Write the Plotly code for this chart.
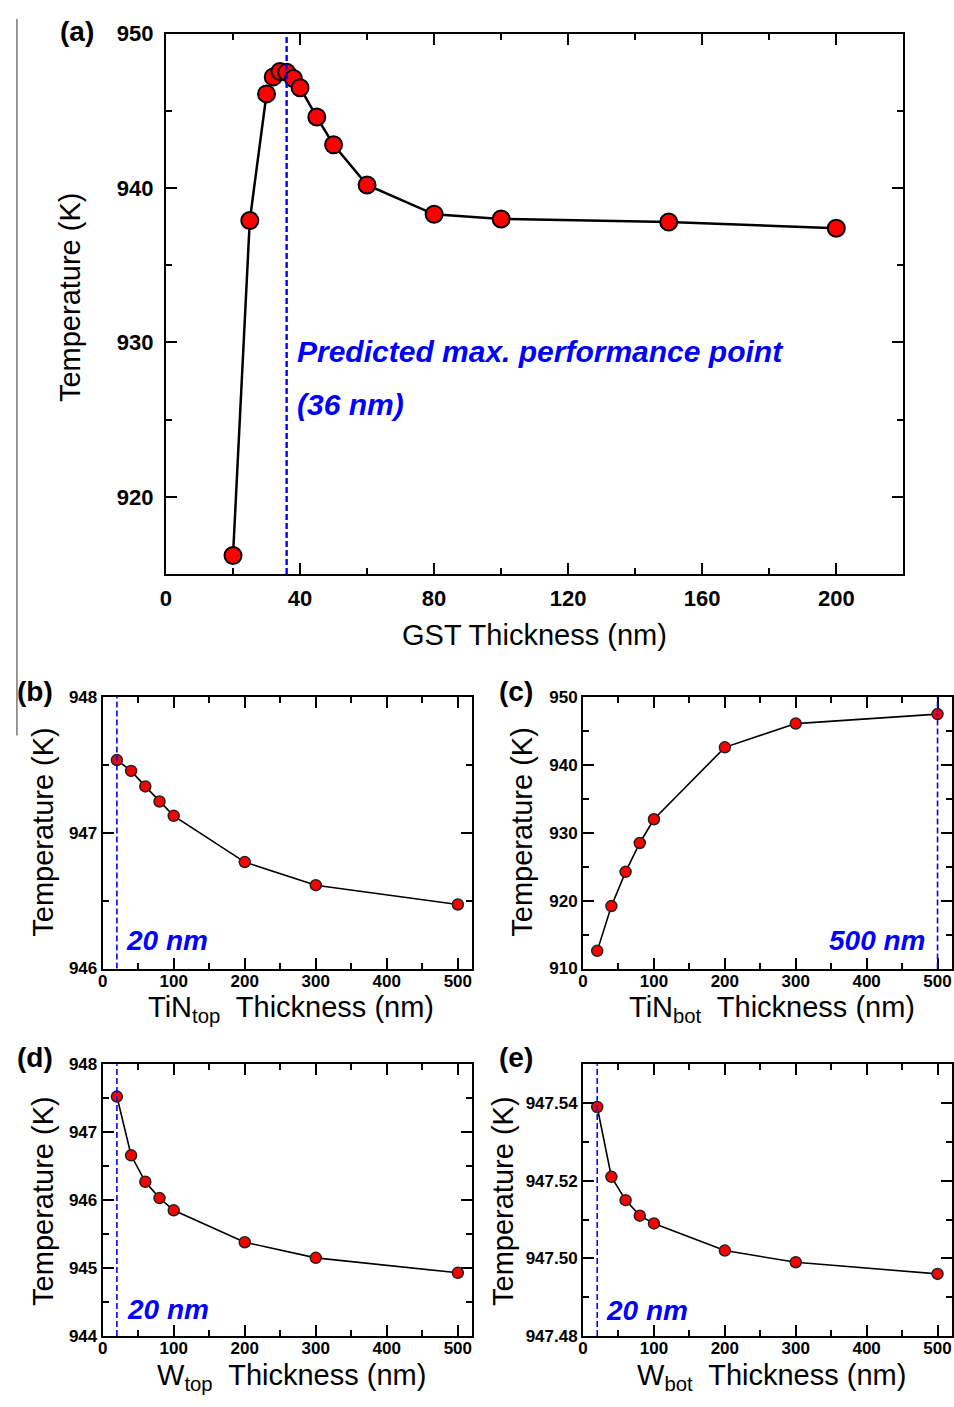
import plotly.graph_objects as go

W, H = 954, 1407
FONT = "Liberation Sans, Arial, sans-serif"

# ---------------- data ----------------
gst_thk = [20, 25, 30, 32, 34, 36, 38, 40, 45, 50, 60, 80, 100, 150, 200]
gst_temp = [916.2, 937.9, 946.1, 947.2, 947.55, 947.5, 947.1, 946.5, 944.6,
            942.8, 940.2, 938.3, 938.0, 937.8, 937.4]

layer_thk = [20, 40, 60, 80, 100, 200, 300, 500]
tin_top_temp = [947.536, 947.456, 947.342, 947.231, 947.125, 946.784, 946.614, 946.472]
tin_bot_temp = [912.6, 919.2, 924.25, 928.5, 932.0, 942.6, 946.1, 947.5]
w_top_temp = [947.525, 946.66, 946.27, 946.03, 945.85, 945.38, 945.15, 944.93]
w_bot_temp = [947.539, 947.521, 947.515, 947.511, 947.509, 947.502, 947.499, 947.496]

opt_gst = 36
opt_tin_top = 20
opt_tin_bot = 500
opt_w_top = 20
opt_w_bot = 20


def px(x):
    return x / W


def py(y):
    return 1 - y / H


fig = go.Figure()

# panel a
fig.add_trace(go.Scatter(
    x=gst_thk, y=gst_temp, mode="lines+markers", xaxis="x", yaxis="y",
    line=dict(color="black", width=2.5),
    marker=dict(size=17, color="#ff0000", line=dict(color="black", width=2)),
    showlegend=False))

small = [
    (layer_thk, tin_top_temp, "x2", "y2"),
    (layer_thk, tin_bot_temp, "x3", "y3"),
    (layer_thk, w_top_temp, "x4", "y4"),
    (layer_thk, w_bot_temp, "x5", "y5"),
]
for xs, ys, xa, ya in small:
    fig.add_trace(go.Scatter(
        x=xs, y=ys, mode="lines+markers", xaxis=xa, yaxis=ya,
        line=dict(color="black", width=1.6),
        marker=dict(size=11, color="#ff0000", line=dict(color="#222222", width=1.5)),
        showlegend=False))


def axis(domain, rng, dtick, minor, anchor, fs, standoff, fmt=None):
    d = dict(domain=domain, range=rng, anchor=anchor, dtick=dtick, tick0=0,
             ticks="inside", ticklen=11, tickwidth=1.5, tickcolor="black",
             minor=dict(ticks="inside", dtick=minor, ticklen=6, tickwidth=1.5, tickcolor="black"),
             showline=True, linecolor="black", linewidth=2, mirror="allticks",
             showgrid=False, zeroline=False, ticklabelstandoff=standoff,
             tickfont=dict(family=FONT, size=fs, color="black", weight="bold"))
    if fmt:
        d["tickformat"] = fmt
    return d


xa_a = [px(161), px(903)]
ya_a = [py(571), py(22)]
xl = [px(97.3), px(469)]
xr = [px(580.7), px(951.7)]
yb = [py(971.7), py(696)]
yd = [py(1345), py(1069)]

fig.update_layout(
    width=W, height=H, margin=dict(l=0, r=0, t=0, b=0),
    paper_bgcolor="white", plot_bgcolor="white",
    xaxis=axis(xa_a, [0, 220], 40, 20, "y", 22, 4),
    yaxis=axis(ya_a, [915, 950], 10, 5, "x", 22, 6),
    xaxis2=axis(xl, [0, 520], 100, 50, "y2", 17, -4),
    yaxis2=axis(yb, [946, 948], 1, 0.5, "x2", 17, 0),
    xaxis3=axis(xr, [0, 520], 100, 50, "y3", 17, -4),
    yaxis3=axis(yb, [910, 950], 10, 5, "x3", 17, 0),
    xaxis4=axis(xl, [0, 520], 100, 50, "y4", 17, -4),
    yaxis4=axis(yd, [944, 948], 1, 0.5, "x4", 17, 0),
    xaxis5=axis(xr, [0, 520], 100, 50, "y5", 17, -4),
    yaxis5=axis(yd, [947.48, 947.55], 0.02, 0.01, "x5", 17, 0, ".2f"),
)

# dashed optimum lines
for xv, xa, ya, w in [(opt_gst, "x", "y", 2.4), (opt_tin_top, "x2", "y2", 1.6),
                      (opt_tin_bot, "x3", "y3", 1.6), (opt_w_top, "x4", "y4", 1.6),
                      (opt_w_bot, "x5", "y5", 1.6)]:
    fig.add_shape(type="line", xref=xa, yref=ya + " domain", x0=xv, x1=xv, y0=0, y1=1,
                  line=dict(color="#0000ff", width=w, dash="6px,3px"))

# thin separator line from the scan
fig.add_shape(type="line", xref="paper", yref="paper", x0=px(11), x1=px(11),
              y0=py(735), y1=py(7), line=dict(color="#777777", width=1.5))

blue = dict(family=FONT, color="#0000ff", weight="bold", style="italic")
ann = []
ann.append(dict(x=38.5, y=929.4, xref="x", yref="y", text="Predicted max. performance point",
                xanchor="left", yanchor="middle", showarrow=False, font=dict(size=30, **blue)))
ann.append(dict(x=38.5, y=926.0, xref="x", yref="y", text="(36 nm)",
                xanchor="left", yanchor="middle", showarrow=False, font=dict(size=30, **blue)))
ann.append(dict(x=30, y=946.21, xref="x2", yref="y2", text="20 nm",
                xanchor="left", yanchor="middle", showarrow=False, font=dict(size=28, **blue)))
ann.append(dict(x=487, y=914.1, xref="x3", yref="y3", text="500 nm",
                xanchor="right", yanchor="middle", showarrow=False, font=dict(size=28, **blue)))
ann.append(dict(x=31, y=944.39, xref="x4", yref="y4", text="20 nm",
                xanchor="left", yanchor="middle", showarrow=False, font=dict(size=28, **blue)))
ann.append(dict(x=29, y=947.4866, xref="x5", yref="y5", text="20 nm",
                xanchor="left", yanchor="middle", showarrow=False, font=dict(size=28, **blue)))

# axis titles
tfont = dict(family=FONT, size=29, color="black")
titles = [
    ("GST Thickness (nm)", 532, 633, 0),
    ("Temperature (K)", 65, 290, -90),
    ("TiN<sub>top</sub>  Thickness (nm)", 287, 1013, 0),
    ("Temperature (K)", 37, 833, -90),
    ("TiN<sub>bot</sub>  Thickness (nm)", 771, 1013, 0),
    ("Temperature (K)", 519, 833, -90),
    ("W<sub>top</sub>  Thickness (nm)", 287, 1387, 0),
    ("Temperature (K)", 37, 1208, -90),
    ("W<sub>bot</sub>  Thickness (nm)", 770, 1387, 0),
    ("Temperature (K)", 500, 1208, -90),
]
for t, x, y, ang in titles:
    ann.append(dict(x=px(x), y=py(y), xref="paper", yref="paper", text=t, textangle=ang,
                    xanchor="center", yanchor="middle", showarrow=False, font=tfont))

# panel letters
lfont = dict(family=FONT, size=28, color="black", weight="bold")
for t, x, y in [("(a)", 71, 20), ("(b)", 29, 690), ("(c)", 513, 690),
                ("(d)", 29, 1062), ("(e)", 513, 1062)]:
    ann.append(dict(x=px(x), y=py(y), xref="paper", yref="paper", text=t,
                    xanchor="center", yanchor="middle", showarrow=False, font=lfont))

fig.update_layout(annotations=ann)
fig.write_html("out.html", config={"displayModeBar": False},
               post_script="document.body.style.margin='0';document.body.style.overflow='hidden';")
